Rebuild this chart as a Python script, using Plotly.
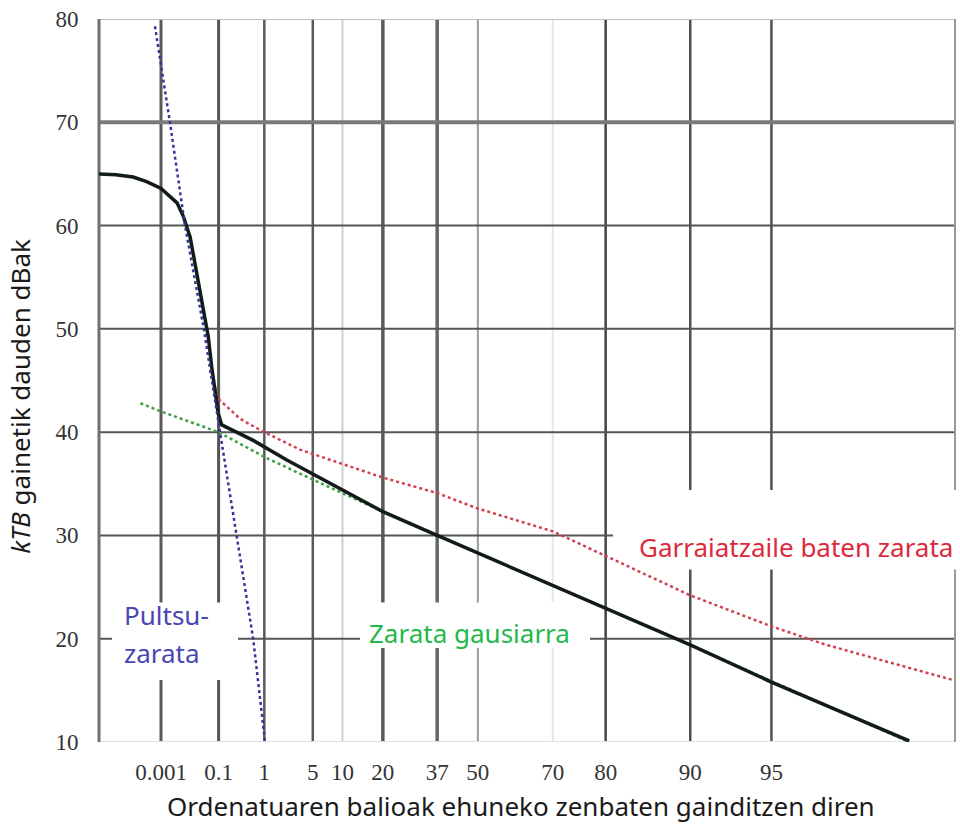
import numpy as np
import plotly.graph_objects as go

# ---------------- data ----------------
tick_pct = [0.001, 0.1, 1, 5, 10, 20, 37, 50, 70, 80, 90, 95]
tick_text = ["0.001", "0.1", "1", "5", "10", "20", "37", "50", "70", "80", "90", "95"]
y_ticks = [10, 20, 30, 40, 50, 60, 70, 80]

total_pct = [2e-7, 3.5e-6, 3.9e-5, 2.1e-4, 0.001, 0.0046, 0.0079, 0.0137, 0.0228,
             0.0366, 0.0517, 0.0647, 0.080, 0.098, 0.121, 0.62, 2.3, 8.2,
             20, 37, 50, 70, 80, 90, 95, 98.5]
total_db = [65.0, 64.93, 64.7, 64.25, 63.6, 62.2, 60.9, 58.9, 55.4,
            52.1, 49.2, 46.3, 43.8, 41.8, 40.7, 39.2, 37.3, 34.9,
            32.3, 30.0, 28.3, 25.2, 23.0, 19.4, 15.8, 10.1]

gauss_pct = [1e-4, 0.001, 0.1, 1, 5, 20, 37, 50, 70, 80, 90, 95, 98.5]
gauss_db = [42.8, 42.0, 40.0, 37.6, 35.4, 32.3, 30.0, 28.3, 25.2, 23.0, 19.4, 15.9, 10.0]

carrier_pct = [0.058, 0.1, 0.33, 0.84, 3.5, 20, 37, 50, 70, 80, 87.1, 90, 95, 96.9, 98.98]
carrier_db = [46.0, 43.2, 41.3, 40.2, 38.3, 35.6, 34.1, 32.6, 30.4, 28.0, 25.6, 24.2, 21.2, 19.4, 16.0]

pulse_pct = [5.3e-4, 0.0024, 0.0091, 0.038, 0.109, 0.62, 1.03]
pulse_db = [79.3, 70.0, 60.0, 50.0, 40.0, 20.0, 10.0]


# Rayleigh probability scale: position = -log10(-ln(p))
def ray(p):
    p = np.asarray(p, dtype=float) / 100.0
    return -np.log10(-np.log(p))


X_RANGE = [-1.300, 1.997]
Y_RANGE = [10, 80]

fig = go.Figure()

fig.add_trace(go.Scatter(x=ray(gauss_pct), y=gauss_db, mode="lines",
                         line=dict(color="#3f9f46", width=2.5, dash="dot"),
                         hoverinfo="skip", showlegend=False))
fig.add_trace(go.Scatter(x=ray(carrier_pct), y=carrier_db, mode="lines",
                         line=dict(color="#d2404f", width=2.5, dash="dot"),
                         hoverinfo="skip", showlegend=False))
fig.add_trace(go.Scatter(x=ray(total_pct), y=total_db, mode="lines",
                         line=dict(color="#121c16", width=3.5),
                         hoverinfo="skip", showlegend=False))
fig.add_trace(go.Scatter(x=ray(pulse_pct), y=pulse_db, mode="lines",
                         line=dict(color="#34349c", width=2.5, dash="dot"),
                         hoverinfo="skip", showlegend=False))

# ---------------- grid (drawn as shapes with individual styles) ----------------
vstyle = {
    "0.001": ("#5a5a5a", 3), "0.1": ("#555555", 3), "1": ("#5a5a5a", 2.5),
    "5": ("#5a5a5a", 2.5), "10": ("#cfcfcf", 2), "20": ("#5a5a5a", 3.5),
    "37": ("#666666", 3.5), "50": ("#9a9a9a", 2), "70": ("#e6e6e6", 2),
    "80": ("#444444", 2.5), "90": ("#505050", 2.5), "95": ("#505050", 2.5),
}
hstyle = {10: ("#e0e0e0", 2), 20: ("#555555", 2), 30: ("#555555", 2),
          40: ("#555555", 2), 50: ("#555555", 2), 60: ("#555555", 2),
          70: ("#7a7a7a", 4), 80: ("#c4c4c4", 2)}

shapes = []
for p, t in zip(tick_pct, tick_text):
    c, w = vstyle[t]
    xv = float(ray(p))
    shapes.append(dict(type="line", xref="x", yref="paper", x0=xv, x1=xv, y0=0, y1=1,
                       line=dict(color=c, width=w), layer="below"))
for yv in y_ticks:
    c, w = hstyle[yv]
    shapes.append(dict(type="line", xref="paper", yref="y", x0=0, x1=1, y0=yv, y1=yv,
                       line=dict(color=c, width=w), layer="below"))
# borders
shapes.append(dict(type="line", xref="paper", yref="paper", x0=0, x1=0, y0=0, y1=1,
                   line=dict(color="#707070", width=3), layer="below"))
shapes.append(dict(type="line", xref="paper", yref="paper", x0=1, x1=1, y0=0, y1=1,
                   line=dict(color="#9a9a9a", width=2), layer="below"))

# white boxes behind the labels (hide grid)
for x0, x1, y0, y1 in [(0.0152, 0.1624, 16.0, 23.5),
                       (0.3049, 0.5736, 19.1, 23.5),
                       (0.6005, 1.02, 26.7, 34.4)]:
    shapes.append(dict(type="rect", xref="paper", yref="y", x0=x0, x1=x1, y0=y0, y1=y1,
                       fillcolor="white", line=dict(width=0), layer="below"))

label_font = "Noto Sans, Open Sans, sans-serif"
LS = 26
annotations = [
    dict(text="Pultsu-", xref="paper", yref="y", x=0.0269, y=22.3, xanchor="left",
         yanchor="middle", showarrow=False, font=dict(family=label_font, size=LS, color="#4a46b4")),
    dict(text="zarata", xref="paper", yref="y", x=0.0269, y=18.6, xanchor="left",
         yanchor="middle", showarrow=False, font=dict(family=label_font, size=LS, color="#4a46b4")),
    dict(text="Zarata gausiarra", xref="paper", yref="y", x=0.3130, y=20.6, xanchor="left",
         yanchor="middle", showarrow=False, font=dict(family=label_font, size=LS, color="#22b84a")),
    dict(text="Garraiatzaile baten zarata", xref="paper", yref="y", x=0.6290, y=28.9,
         xanchor="left", yanchor="middle", showarrow=False,
         font=dict(family=label_font, size=LS, color="#dc2a3c")),
    dict(text="<i>kTB</i> gainetik dauden dBak", xref="paper", yref="paper", x=-0.092, y=0.478,
         xanchor="center", yanchor="middle", textangle=-90, showarrow=False,
         font=dict(family=label_font, size=26, color="#1a1a1a")),
    dict(text="Ordenatuaren balioak ehuneko zenbaten gainditzen diren", xref="paper",
         yref="paper", x=0.493, y=-0.0885, xanchor="center", yanchor="middle",
         showarrow=False, font=dict(family=label_font, size=26, color="#1a1a1a")),
]

tick_font = dict(family="Liberation Serif, Times New Roman, serif", size=23, color="#333333")

fig.update_layout(
    width=960, height=825,
    margin=dict(l=99, r=5, t=19, b=83),
    paper_bgcolor="white", plot_bgcolor="white",
    shapes=shapes, annotations=annotations,
    xaxis=dict(range=X_RANGE, tickmode="array", tickvals=ray(tick_pct), ticktext=tick_text,
               showgrid=False, zeroline=False, showline=False, ticks="outside", ticklen=9,
               tickcolor="rgba(0,0,0,0)", tickfont=tick_font),
    yaxis=dict(range=Y_RANGE, tickmode="array", tickvals=y_ticks,
               ticktext=[str(v) for v in y_ticks], showgrid=False, zeroline=False,
               showline=False, ticks="outside", ticklen=15, tickcolor="rgba(0,0,0,0)",
               tickfont=tick_font),
)

fig.write_html("out.html")
